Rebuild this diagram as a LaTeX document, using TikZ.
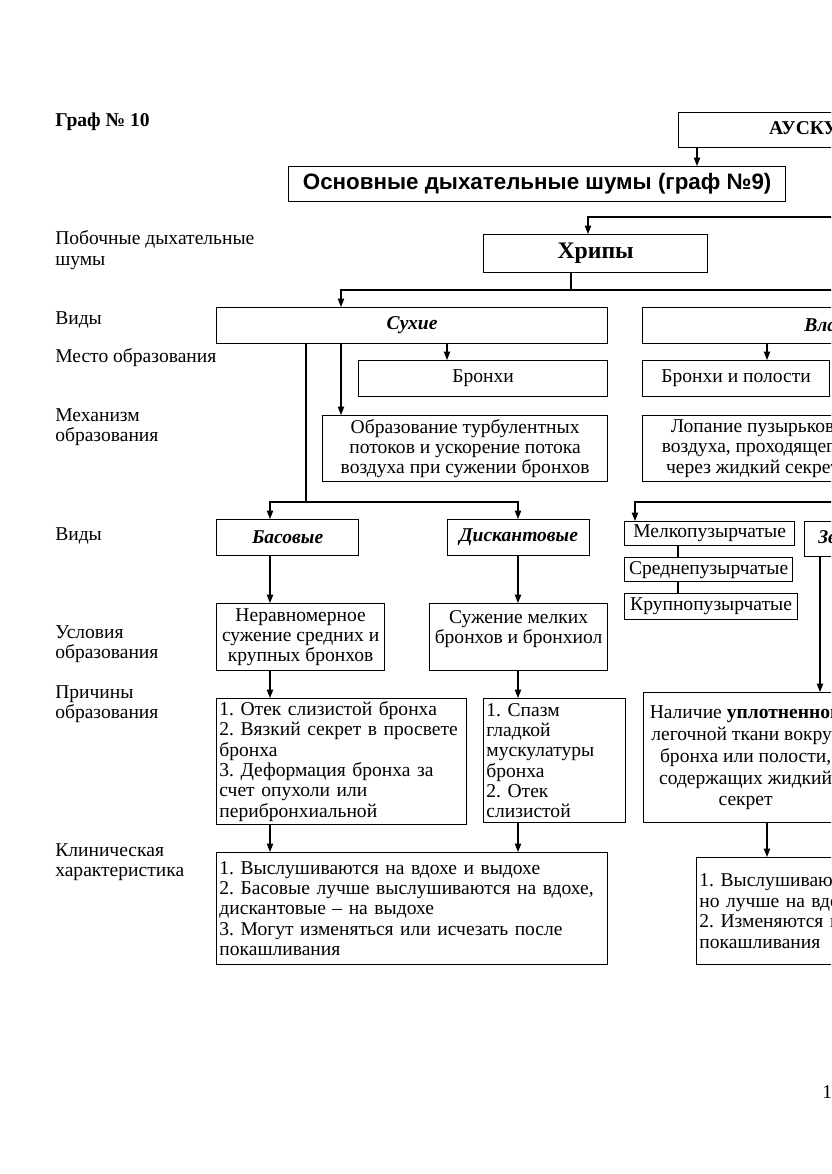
\documentclass[tikz,border=0pt]{standalone}
\usepackage{fontspec}
\setmainfont{Liberation Serif}
\newfontfamily\headfont{Liberation Sans}
\usetikzlibrary{arrows.meta}

\begin{document}
\begin{tikzpicture}[x=0.716pt, y=-0.716pt,
  box/.style={draw, line width=0.9pt, anchor=north west, inner sep=2pt,
    font=\fontsize{14}{14.6}\selectfont\frenchspacing},
  lab/.style={anchor=west, align=left, inner sep=0pt,
    font=\fontsize{14}{14.6}\selectfont},
  kind/.style={font=\fontsize{14}{14.6}\selectfont\bfseries\itshape},
  arr/.style={line width=0.9pt, -{Triangle[length=6pt,width=4.5pt]}},
  ln/.style={line width=0.9pt},
  wh/.style 2 args={minimum width=#1*0.716pt, minimum height=#2*0.716pt},
  tw/.style={text width=#1*0.716pt-4pt}]
\useasboundingbox (0,0) rectangle (831,1174);
\clip (0,0) rectangle (831,1174);
\fill[white] (0,0) rectangle (831,1174);

% left column
\node[lab, font=\fontsize{14}{14.6}\selectfont\bfseries] (title) at (55,122) {Граф № 10};
\node[lab] (lab1) at (55,250) {Побочные дыхательные\\шумы};
\node[lab] (lab2) at (55,320) {Виды};
\node[lab] (lab3) at (55,358) {Место образования};
\node[lab] (lab4) at (55,427) {Механизм\\образования};
\node[lab] (lab5) at (55,536) {Виды};
\node[lab] (lab6) at (55,644) {Условия\\образования};
\node[lab] (lab7) at (55,704) {Причины\\образования};
\node[lab] (lab8) at (55,862) {Клиническая\\характеристика};
\node[lab] (pnum) at (822,1092) {1};

% top
\node[box, wh={344}{35}, font=\fontsize{14}{14.6}\selectfont\bfseries] (ausk) at (678,112) {АУСКУЛЬТАЦИЯ};
\node[box, wh={497}{35}, font=\headfont\fontsize{16}{19}\selectfont\bfseries] (osn) at (288,166) {Основные дыхательные шумы (граф №9)};
\node[box, wh={224}{38}, font=\fontsize{17}{20}\selectfont\bfseries] (hrip) at (483,234) {Хрипы};

% dry / moist
\node[box, wh={391}{36}, kind] (dry) at (216,307) {Сухие};
\node[box, wh={408}{36}, kind] (wet) at (642,307) {Влажные};
\node[box, wh={249}{36}] (brdry) at (358,360) {Бронхи};
\node[box, wh={187}{36}] (brwet) at (642,360) {Бронхи и полости};
\node[box, wh={285}{66}, align=center] (mechdry) at (322,415) {Образование турбулентных\\потоков и ускорение потока\\воздуха при сужении бронхов};
\node[box, wh={220}{66}, align=center] (mechwet) at (642,415) {Лопание пузырьков\\воздуха, проходящего\\через жидкий секрет};

% kinds
\node[box, wh={142}{36}, kind] (bass) at (216,519) {Басовые};
\node[box, wh={142}{36}, kind] (disc) at (447,519) {Дискантовые};
\node[box, wh={170}{24}, inner sep=0pt] (small) at (624,521) {Мелкопузырчатые};
\node[box, wh={168}{24}, inner sep=0pt] (medium) at (624,557) {Среднепузырчатые};
\node[box, wh={173}{26}, inner sep=0pt] (large) at (624,593) {Крупнопузырчатые};
\node[box, wh={98}{35}, kind] (sonor) at (804,521) {Звучные};

% conditions, causes
\node[box, wh={168}{67}, align=center] (condbass) at (216,603) {Неравномерное\\сужение средних и\\крупных бронхов};
\node[box, wh={178}{67}, align=center] (conddisc) at (429,603) {Сужение мелких\\бронхов и бронхиол\\~};
\node[box, wh={250}{124}, align=left, tw=250] (causebass) at (216,698) {1. Отек слизистой бронха\\2. Вязкий секрет в просвете\\бронха\\3. Деформация бронха за\\счет опухоли или\\перибронхиальной};
\node[box, wh={142}{124}, align=left, tw=142] (causedisc) at (483,698) {1. Спазм\\гладкой\\мускулатуры\\бронха\\2. Отек\\слизистой};
\node[box, wh={204}{130}, align=center, font=\fontsize{14}{15.6}\selectfont] (causewet) at (643,692) {Наличие \textbf{уплотненной}\\легочной ткани вокруг\\бронха или полости,\\содержащих жидкий\\секрет};

% clinical
\node[box, wh={391}{112}, align=left, tw=391] (clin) at (216,852) {1. Выслушиваются на вдохе и выдохе\\2. Басовые лучше выслушиваются на вдохе,\\дискантовые – на выдохе\\3. Могут изменяться или исчезать после\\покашливания};
\node[box, wh={400}{107}, align=left, tw=400] (clinwet) at (696,857) {1. Выслушиваются на вдохе и выдохе,\\но лучше на вдохе\\2. Изменяются после\\покашливания};

% connectors
\coordinate (c1) at (697,0);
\coordinate (r1) at (1000,217);
\coordinate (r2) at (588,217);
\draw[arr] (c1 |- ausk.south) -- (c1 |- osn.north);
\draw[arr] (r1 |- ausk.south) -- (r1) -- (r2) -- (r2 |- hrip.north);

\coordinate (h1) at (571,290);
\coordinate (h2) at (341,0);
\draw[ln] (h1 |- hrip.south) -- (h1);
\draw[arr] (h1) -| (h2 |- dry.north);
\draw[arr] (h1) -| (wet.north);

\coordinate (d1) at (447,0);
\draw[arr] (d1 |- dry.south) -- (d1 |- brdry.north);
\draw[arr] (h2 |- dry.south) -- (h2 |- mechdry.north);

\coordinate (s1) at (306,502);
\coordinate (k1) at (270,0);
\coordinate (k2) at (518,0);
\draw[ln] (s1 |- dry.south) -- (s1);
\draw[arr] (s1) -| (k1 |- bass.north);
\draw[arr] (s1) -| (k2 |- disc.north);
\draw[arr] (k1 |- bass.south) -- (k1 |- condbass.north);
\draw[arr] (k1 |- condbass.south) -- (k1 |- causebass.north);
\draw[arr] (k1 |- causebass.south) -- (k1 |- clin.north);
\draw[arr] (k2 |- disc.south) -- (k2 |- conddisc.north);
\draw[arr] (k2 |- conddisc.south) -- (k2 |- causedisc.north);
\draw[arr] (k2 |- causedisc.south) -- (k2 |- clin.north);

\coordinate (w1) at (635,502);
\coordinate (w2) at (1000,502);
\coordinate (w3) at (767,0);
\draw[arr] (w3 |- wet.south) -- (w3 |- brwet.north);
\draw[arr] (w2 |- wet.south) -- (w2) -- (w1) -- (w1 |- small.north);
\coordinate (m1) at (678,0);
\draw[ln] (m1 |- small.south) -- (m1 |- medium.north);
\draw[ln] (m1 |- medium.south) -- (m1 |- large.north);
\coordinate (z1) at (820,0);
\draw[arr] (z1 |- sonor.south) -- (z1 |- causewet.north);
\draw[arr] (w3 |- causewet.south) -- (w3 |- clinwet.north);
\end{tikzpicture}
\end{document}
